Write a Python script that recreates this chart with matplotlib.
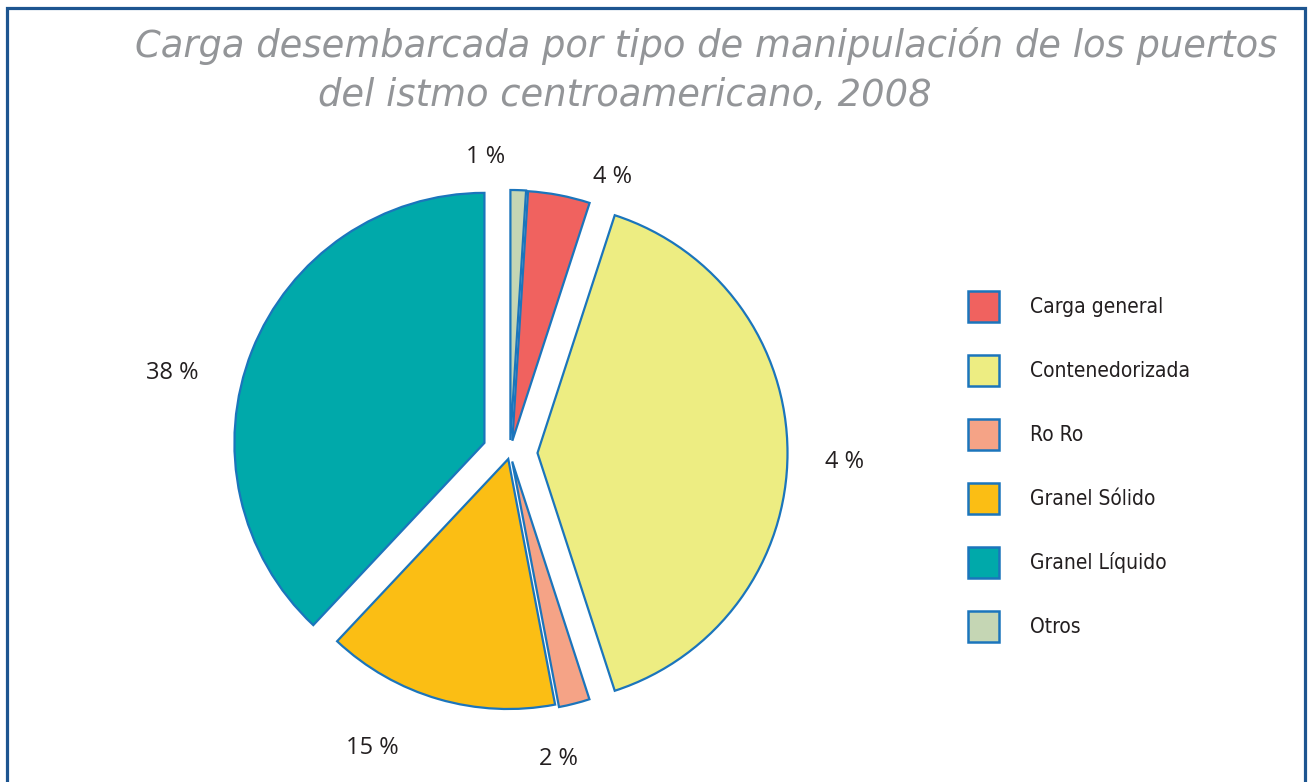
import matplotlib
matplotlib.use('Agg')
import matplotlib.pyplot as plt
from matplotlib.patches import Rectangle, Patch
import numpy as np

# ---- data ----
categories = ['Otros', 'Carga general', 'Contenedorizada', 'Ro Ro', 'Granel Sólido', 'Granel Líquido']
values = [1, 4, 40, 2, 15, 38]
pct_labels = ['1 %', '4 %', '4 %', '2 %', '15 %', '38 %']
legend_order = ['Carga general', 'Contenedorizada', 'Ro Ro', 'Granel Sólido', 'Granel Líquido', 'Otros']
title_line1 = 'Carga desembarcada por tipo de manipulación de los puertos'
title_line2 = 'del istmo centroamericano, 2008'

# ---- style ----
colors = {
    'Otros': '#c5d6b4',
    'Carga general': '#f0625f',
    'Contenedorizada': '#eded82',
    'Ro Ro': '#f5a386',
    'Granel Sólido': '#fbbe14',
    'Granel Líquido': '#00a9aa',
}
explode = [0.052, 0.05, 0.11, 0.035, 0.025, 0.11]
label_angles = [94.8, 69.6, -1.5, -81.0, -115.0, 166.7]
label_dists = [1.19, 1.18, 1.34, 1.24, 1.30, 1.39]
edge_col = '#1b75bc'

W, H = 1312, 782
R = 250.0
cx, cy = 510, 453

fig = plt.figure(figsize=(W / 100, H / 100), dpi=100)
ax = fig.add_axes([0, 0, 1, 1])
wedges, _ = ax.pie(values, colors=[colors[c] for c in categories], explode=explode,
                   startangle=90, counterclock=False, radius=1,
                   wedgeprops=dict(edgecolor=edge_col, linewidth=1.6))
ax.set_xlim(-cx / R, (W - cx) / R)
ax.set_ylim(-(H - cy) / R, cy / R)
ax.set_aspect('auto')
ax.axis('off')

pct_font = dict(family=['Open Sans', 'DejaVu Sans'], fontsize=17, color='#231f20')
for lab, a, d in zip(pct_labels, label_angles, label_dists):
    t = np.deg2rad(a)
    ax.text(d * np.cos(t), d * np.sin(t), lab, ha='center', va='center', **pct_font)

# legend
handles = [Patch(facecolor=colors[c], edgecolor=edge_col, linewidth=1.8) for c in legend_order]
leg = fig.legend(handles, legend_order, loc='upper left',
                 bbox_to_anchor=(968 / W, 1 - 291 / H), frameon=False,
                 prop=dict(family=['Liberation Sans Narrow', 'DejaVu Sans'], stretch='condensed', size=15),
                 handlelength=1.49, handleheight=1.913, labelspacing=1.585, handletextpad=1.49,
                 borderpad=0, borderaxespad=0)
for t in leg.get_texts():
    t.set_color('#231f20')

# title
tfont = dict(family=['DejaVu Sans'], style='oblique', fontsize=26.6, color='#939598')
fig.text(135 / W, 1 - 57 / H, title_line1, ha='left', va='baseline', **tfont)
fig.text(318 / W, 1 - 106 / H, title_line2, ha='left', va='baseline', **tfont)

# frame
fig.patches.append(Rectangle((7 / W, -0.02), (1305 - 7) / W, 1.02 - 8 / H, transform=fig.transFigure,
                             fill=False, edgecolor='#1d5590', linewidth=2.3))

fig.savefig('out.png', dpi=100)
